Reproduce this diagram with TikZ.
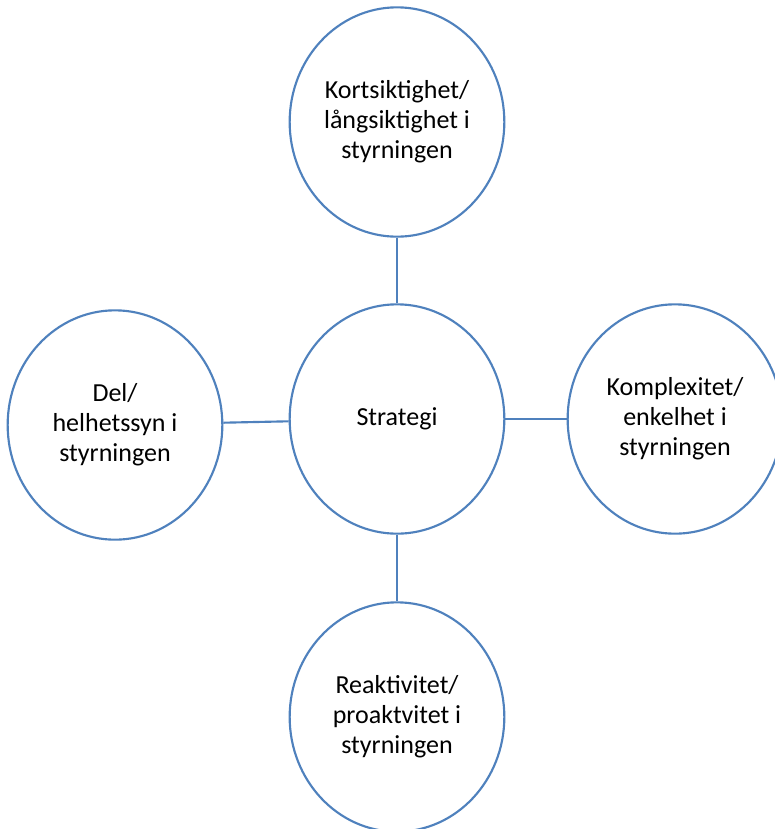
\documentclass[tikz,border=0pt]{standalone}
\usepackage{fontspec}
\setmainfont{Carlito}
\usepackage{xcolor}
\definecolor{ringblue}{RGB}{79,129,189}
\usetikzlibrary{shapes.geometric,positioning}

\begin{document}
\begin{tikzpicture}[x=0.75pt, y=-0.75pt,
    ring/.style={draw=ringblue, line width=1.6pt, ellipse, minimum width=161pt, minimum height=172pt, inner sep=0pt, align=center, font=\fontsize{19.5}{22.5}\selectfont}]
    \useasboundingbox (0,0) rectangle (775,829);

    \node[ring] (strategi) at (397,419) {Strategi};
    \node[ring] (kort) at (397,122) {Kortsiktighet/\\långsiktighet i\\styrningen};
    \node[ring] (del) at (115,425) {Del/\\helhetssyn i\\styrningen};
    \node[ring] (kompl) at (675,419) {Komplexitet/\\enkelhet i\\styrningen};
    \node[ring] (reakt) at (397,717) {Reaktivitet/\\proaktvitet i\\styrningen};

    \draw[ringblue, line width=1.6pt] (kort) -- (strategi);
    \draw[ringblue, line width=1.6pt] (del) -- (strategi);
    \draw[ringblue, line width=1.6pt] (strategi) -- (kompl);
    \draw[ringblue, line width=1.6pt] (strategi) -- (reakt);
\end{tikzpicture}
\end{document}
